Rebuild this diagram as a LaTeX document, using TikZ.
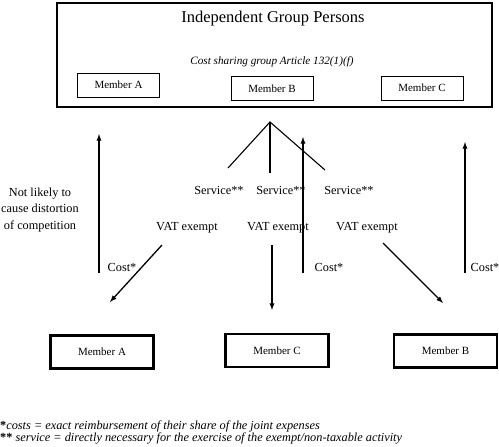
\documentclass[tikz,border=0pt]{standalone}
\usepackage{fontspec}
\setmainfont{Liberation Serif}
\usetikzlibrary{arrows,positioning}

\begin{document}
\begin{tikzpicture}[x=1pt, y=-1pt,
        inner/.style={rectangle, draw, line width=0.8pt, minimum width=82pt, minimum height=24pt,
                      inner sep=0pt, font=\fontsize{11}{13}\selectfont},
        outer/.style={inner, line width=2.6pt, minimum width=103pt, minimum height=33pt},
        lbl/.style={inner sep=0pt, font=\fontsize{12.3}{16.5}\selectfont},
        note/.style={anchor=west, inner sep=0pt, font=\fontsize{12.3}{14}\selectfont\itshape},
        flow/.style={-latex, line width=1.3pt}
      ]
        \useasboundingbox (0,0) rectangle (499,447);

        % the group
        \node[draw, line width=2.6pt, minimum width=435pt, minimum height=104pt, inner sep=0pt] (group) at (274.5,55) {};
        \node[inner sep=0pt, font=\fontsize{16.5}{19}\selectfont] (title) at (273,19) {Independent Group Persons};
        \node[inner sep=0pt, font=\fontsize{11.2}{13}\selectfont\itshape] (subtitle) at (272,62) {Cost sharing group Article 132(1)(f)};
        \node[inner] (gA) at (118.5,85) {Member A};
        \node[inner] (gB) at (272,88.5) {Member B};
        \node[inner] (gC) at (422,88) {Member C};

        % services
        \coordinate (apex) at (270,122);
        \coordinate (brA) at (228,168);
        \coordinate (brB) at (270,173);
        \coordinate (brC) at (325,170);
        \draw[line width=1.1pt] (brA) -- (apex) -- (brC);
        \draw[line width=1.1pt] (apex) -- (brB);
        \node[lbl] (svcA) at (219,190) {Service**};
        \node[lbl] (svcB) at (281,190) {Service**};
        \node[lbl] (svcC) at (349,190) {Service**};
        \node[lbl] (vatA) at (187,228) {VAT exempt};
        \node[lbl] (vatB) at (278,228) {VAT exempt};
        \node[lbl] (vatC) at (367,228) {VAT exempt};
        \node[lbl, align=center] (distort) at (40,210) {Not likely to\\cause distortion\\of competition};

        % members outside
        \node[outer] (mA) at (102,352) {Member A};
        \node[outer] (mC) at (277,350.5) {Member C};
        \node[outer] (mB) at (445.5,351) {Member B};

        % flows
        \coordinate (upA0) at (99,273);
        \coordinate (upA1) at (99,134);
        \coordinate (upC0) at (303,273);
        \coordinate (upC1) at (303,137);
        \coordinate (upB0) at (465,273);
        \coordinate (upB1) at (465,142);
        \coordinate (dnA0) at (162,245);
        \coordinate (dnA1) at (110,302);
        \coordinate (dnC0) at (272,245);
        \coordinate (dnC1) at (272,310);
        \coordinate (dnB0) at (383,243);
        \coordinate (dnB1) at (443,303);
        \draw[flow] (upA0) -- (upA1);
        \draw[flow] (upC0) -- (upC1);
        \draw[flow] (upB0) -- (upB1);
        \draw[flow] (dnA0) -- (dnA1);
        \draw[flow] (dnC0) -- (dnC1);
        \draw[flow] (dnB0) -- (dnB1);
        \node[lbl] (costA) at (122,267) {Cost*};
        \node[lbl] (costC) at (329,267) {Cost*};
        \node[lbl] (costB) at (485,267) {Cost*};

        % notes
        \node[note] (note1) at (0,426) {\textbf{\upshape*}costs = exact reimbursement of their share of the joint expenses};
        \node[note] (note2) at (0,438) {\textbf{\upshape**} service = directly necessary for the exercise of the exempt/non-taxable activity};
      \end{tikzpicture}
\end{document}
